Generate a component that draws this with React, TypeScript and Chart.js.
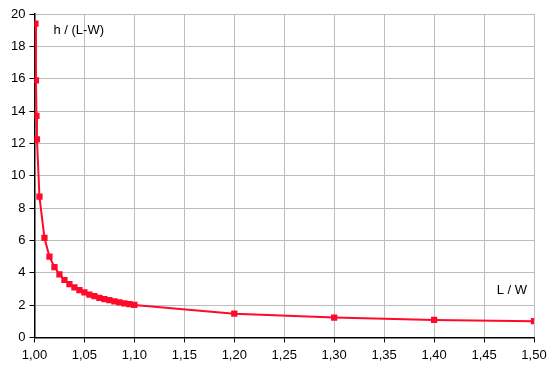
import React, { useEffect, useRef } from "react";
import { Chart, registerables } from "chart.js";

Chart.register(...registerables);

const ratioLW = [1.001, 1.0015, 1.002, 1.0025, 1.005, 1.01, 1.015, 1.02, 1.025, 1.03, 1.035, 1.04, 1.045, 1.05, 1.055, 1.06, 1.065, 1.07, 1.075, 1.08, 1.085, 1.09, 1.095, 1.1, 1.2, 1.3, 1.4, 1.5];
const hOverLW = [19.4, 15.9, 13.7, 12.25, 8.7, 6.15, 5.0, 4.35, 3.9, 3.55, 3.3, 3.1, 2.92, 2.78, 2.65, 2.55, 2.45, 2.37, 2.3, 2.23, 2.17, 2.11, 2.06, 2.01, 1.47, 1.23, 1.08, 1.0];
const yLabel = "h / (L-W)";
const xLabel = "L / W";

const FONT = "'Liberation Sans', Arial, sans-serif";

const labelPlugin = {
  id: "axisTexts",
  afterDraw(chart: any) {
    const { ctx, scales } = chart;
    const x = scales.x, y = scales.y;
    ctx.save();
    ctx.fillStyle = "#000";
    ctx.font = `13px ${FONT}`;
    ctx.textBaseline = "middle";
    ctx.textAlign = "left";
    ctx.fillText(yLabel, x.getPixelForValue(1.019), y.getPixelForValue(19.0));
    ctx.textAlign = "right";
    ctx.fillText(xLabel, x.getPixelForValue(1.493), y.getPixelForValue(2.9));
    ctx.restore();
  },
};

export default function App() {
  const ref = useRef<HTMLCanvasElement>(null);
  useEffect(() => {
    if (!ref.current) return;
    const chart = new Chart(ref.current, {
      type: "scatter",
      data: {
        datasets: [
          {
            data: ratioLW.map((v, i) => ({ x: v, y: hOverLW[i] })),
            showLine: true,
            borderColor: "#ff0a2a",
            backgroundColor: "#ff0a2a",
            borderWidth: 2,
            pointStyle: "rect",
            pointRadius: 3,
            pointHoverRadius: 3,
            tension: 0,
          },
        ],
      },
      plugins: [labelPlugin],
      options: {
        animation: false,
        responsive: false,
        layout: { padding: { left: 7, right: 20, top: 14, bottom: 3 } },
        plugins: { legend: { display: false }, tooltip: { enabled: false } },
        scales: {
          x: {
            type: "linear",
            min: 1,
            max: 1.5,
            ticks: {
              stepSize: 0.05,
              color: "#000",
              font: { family: FONT, size: 13 },
              padding: 5,
              callback: (v: any) => Number(v).toFixed(2).replace(".", ","),
            },
            grid: { color: "#bdbdbd", tickColor: "#000", tickLength: 5, lineWidth: 1 },
            border: { color: "#000", width: 1.5 },
          },
          y: {
            min: 0,
            max: 20,
            ticks: {
              stepSize: 2,
              color: "#000",
              font: { family: FONT, size: 13 },
              padding: 4,
            },
            grid: { color: "#bdbdbd", tickColor: "#000", tickLength: 5, lineWidth: 1 },
            border: { color: "#000", width: 1.5 },
          },
        },
      },
    });
    return () => chart.destroy();
  }, []);
  return (
    <div style={{ position: "absolute", left: 0, top: 0, width: 554, height: 371, background: "#fff" }}>
      <canvas ref={ref} width={554} height={371} style={{ width: 554, height: 371 }} />
    </div>
  );
}
